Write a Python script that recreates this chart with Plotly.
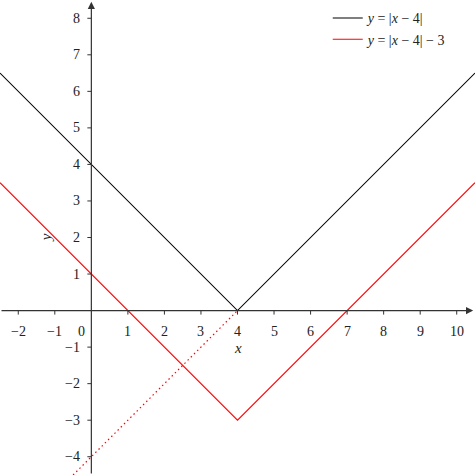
import plotly.graph_objects as go

# data
x_line = [-2.5, 4, 10.5]
y_abs = [6.5, 0, 6.5]            # y = |x - 4|
y_shift = [3.5, -3, 3.5]         # y = |x - 4| - 3
x_dot = [-0.5, 4]
y_dot = [-4.5, 0]                # continuation y = x - 4
x_ticks = [-2, -1, 1, 2, 3, 4, 5, 6, 7, 8, 9, 10]
y_ticks = [-4, -3, -2, -1, 1, 2, 3, 4, 5, 6, 7, 8]

serif = "Liberation Serif"
axis_col = "#333333"
red = "#ff0000"

fig = go.Figure()
fig.add_trace(go.Scatter(x=x_line, y=y_abs, mode="lines",
                         line=dict(color="black", width=1.1),
                         name="<i>y</i> = |<i>x</i> − 4|"))
fig.add_trace(go.Scatter(x=x_line, y=y_shift, mode="lines",
                         line=dict(color=red, width=1.1),
                         name="<i>y</i> = |<i>x</i> − 4| − 3"))
fig.add_trace(go.Scatter(x=x_dot, y=y_dot, mode="lines",
                         line=dict(color=red, width=1.2, dash="1.5px,3px"),
                         showlegend=False))

# axes with arrows
fig.add_annotation(x=10.45, y=0, ax=-2.5, ay=0, xref="x", yref="y", axref="x", ayref="y",
                   showarrow=True, arrowhead=2, arrowsize=1.2, arrowwidth=1.2,
                   arrowcolor=axis_col, text="")
fig.add_annotation(x=0, y=8.45, ax=0, ay=-4.5, xref="x", yref="y", axref="x", ayref="y",
                   showarrow=True, arrowhead=2, arrowsize=1.2, arrowwidth=1.2,
                   arrowcolor=axis_col, text="")

shapes = []
for t in x_ticks:
    shapes.append(dict(type="line", xref="x", yref="y", ysizemode="pixel", yanchor=0,
                       x0=t, x1=t, y0=0, y1=-4, line=dict(color=axis_col, width=1)))
    fig.add_annotation(x=t, y=0, xref="x", yref="y", showarrow=False,
                       text=str(t).replace("-", "−"), yshift=-21,
                       font=dict(family=serif, size=14, color="#222"))
for t in y_ticks:
    shapes.append(dict(type="line", xref="x", yref="y", xsizemode="pixel", xanchor=0,
                       x0=0, x1=-4, y0=t, y1=t, line=dict(color=axis_col, width=1)))
    fig.add_annotation(x=0, y=t, xref="x", yref="y", showarrow=False, xanchor="right",
                       text=str(t).replace("-", "−"), xshift=-9,
                       font=dict(family=serif, size=14, color="#222"))
fig.add_annotation(x=0, y=0, xref="x", yref="y", showarrow=False, xanchor="right",
                   text="0", xshift=-4, yshift=-21,
                   font=dict(family=serif, size=14, color="#222"))

# axis titles
fig.add_annotation(x=4, y=-1.02, xref="x", yref="y", showarrow=False, text="<i>x</i>",
                   font=dict(family=serif, size=15, color="#222"))
fig.add_annotation(x=-1.25, y=2.0, xref="x", yref="y", showarrow=False, text="<i>y</i>",
                   textangle=-90, font=dict(family=serif, size=15, color="#222"))

fig.update_layout(
    width=475, height=475,
    margin=dict(l=0, r=0, t=0, b=0),
    paper_bgcolor="white", plot_bgcolor="white",
    shapes=shapes,
    xaxis=dict(range=[-2.5, 10.5], visible=False),
    yaxis=dict(range=[-4.5, 8.5], visible=False),
    legend=dict(x=0.69, y=0.995, xanchor="left", yanchor="top",
                bgcolor="rgba(0,0,0,0)", font=dict(family=serif, size=14, color="#222"),
                tracegroupgap=4),
    showlegend=True,
)

fig.write_html("out.html", config={"displayModeBar": False},
               post_script="document.body.style.margin='0px';")
